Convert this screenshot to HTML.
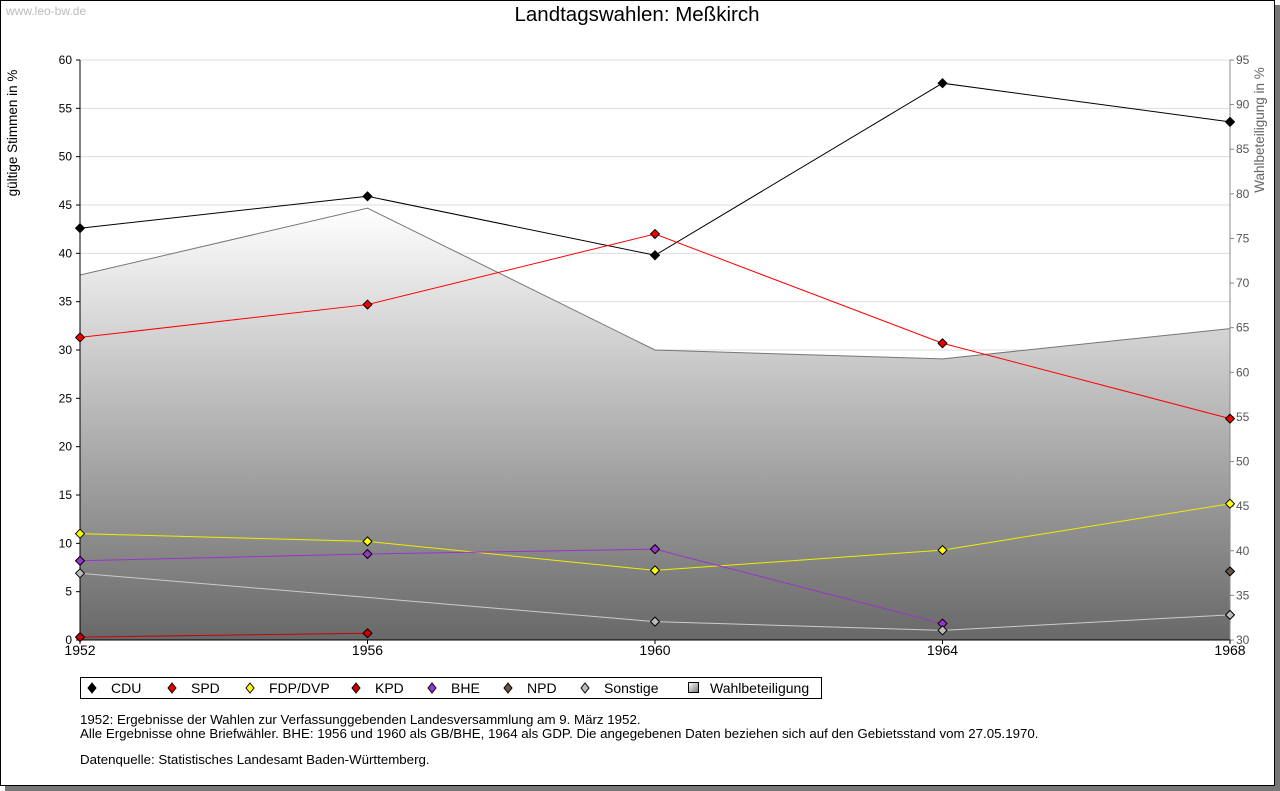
<!DOCTYPE html>
<html><head><meta charset="utf-8"><style>
body{margin:0;background:#fff;font-family:"Liberation Sans","DejaVu Sans",sans-serif}
#frame{position:absolute;left:0;top:0;width:1273px;height:784px;border:1px solid #000;box-shadow:5px 5px 0 #777;background:#fff}
svg{position:absolute;left:0;top:0}
</style></head><body>
<div id="frame"></div>
<svg id="chart" width="1280" height="791"></svg>
<script>
const years=[1952,1956,1960,1964,1968];
const cdu=[42.6,45.9,39.8,57.6,53.6];
const spd=[31.3,34.7,42.0,30.7,22.9];
const fdp=[11.0,10.2,7.2,9.3,14.1];
const kpd=[0.3,0.7,null,null,null];
const bhe=[8.2,8.9,9.4,1.7,null];
const npd=[null,null,null,null,7.1];
const sonstige=[6.9,null,1.9,1.0,2.6];
const turnout=[70.9,78.4,62.5,61.5,64.9];
const leftTicks=[0,5,10,15,20,25,30,35,40,45,50,55,60];
const rightTicks=[30,35,40,45,50,55,60,65,70,75,80,85,90,95];
const NS='http://www.w3.org/2000/svg';
const svg=document.getElementById('chart');
const X0=80,X1=1230,Y0=640,Y1=60;
const xs=y=>X0+(y-1952)/(1968-1952)*(X1-X0);
const yl=v=>Y0-v/60*(Y0-Y1);
const yr=v=>Y0-(v-30)/65*(Y0-Y1);
function el(t,a,p){const e=document.createElementNS(NS,t);for(const k in a)e.setAttribute(k,a[k]);(p||svg).appendChild(e);return e;}
function txt(s,a){const e=el('text',a);e.textContent=s;return e;}
const defs=el('defs',{});
const g=el('linearGradient',{id:'tg',x1:0,y1:0,x2:0,y2:1},defs);
el('stop',{offset:'0','stop-color':'#fff'},g);el('stop',{offset:'1','stop-color':'#686868'},g);
const lg=el('linearGradient',{id:'lg',x1:0,y1:0,x2:1,y2:1},defs);
el('stop',{offset:'0','stop-color':'#fff'},lg);el('stop',{offset:'1','stop-color':'#777'},lg);
leftTicks.forEach(v=>{if(v>0){const l=el('line',{x1:X0,x2:X1,y1:yl(v),y2:yl(v),stroke:'#ddd'});}});
let d='M'+xs(years[0])+','+Y0;
years.forEach((y,i)=>d+=' L'+xs(y)+','+yr(turnout[i]));
d+=' L'+xs(years[4])+','+Y0+' Z';
const area=el('path',{d:d,fill:'url(#tg)'});

const tl=el('polyline',{points:years.map((y,i)=>xs(y)+','+yr(turnout[i])).join(' '),fill:'none',stroke:'#777','stroke-width':1});

el('line',{x1:X0,x2:X0,y1:Y1,y2:Y0,stroke:'#000'});
el('line',{x1:X1,x2:X1,y1:Y1,y2:Y0,stroke:'#888'});
el('line',{x1:X0,x2:X1,y1:Y0,y2:Y0,stroke:'#000'});
leftTicks.forEach(v=>{el('line',{x1:X0-4,x2:X0,y1:yl(v),y2:yl(v),stroke:'#000'});
 const t=txt(v,{x:X0-8,y:yl(v)+4,'text-anchor':'end','font-size':12,fill:'#000'});});
rightTicks.forEach(v=>{el('line',{x1:X1,x2:X1+4,y1:yr(v),y2:yr(v),stroke:'#888'});
 const t=txt(v,{x:X1+6,y:yr(v)+4,'font-size':12,fill:'#555'});});
years.forEach(y=>{el('line',{x1:xs(y),x2:xs(y),y1:Y0,y2:Y0+4,stroke:'#000'});
 const t=txt(y,{x:xs(y),y:Y0+15,'text-anchor':'middle','font-size':14});});
const series=[['cdu',cdu,'#000','#000'],['spd',spd,'#f00','#e00'],['fdp',fdp,'#ee0','#ff0'],['kpd',kpd,'#c00','#c00'],['bhe',bhe,'#93c','#93c'],['npd',npd,'#654','#654'],['sonstige',sonstige,'#ccc','#bbb']];
series.forEach(([n,vals,lc,fc])=>{
 const pts=years.map((y,i)=>vals[i]==null?null:[xs(y),yl(vals[i])]).filter(p=>p);
 if(pts.length>1){const l=el('polyline',{points:pts.map(p=>p.join(',')).join(' '),fill:'none',stroke:lc,'stroke-width':1});}
 pts.forEach(p=>{const m=el('path',{d:`M${p[0]},${p[1]-4.5} L${p[0]+4.5},${p[1]} L${p[0]},${p[1]+4.5} L${p[0]-4.5},${p[1]} Z`,fill:fc,stroke:'#000','stroke-width':1,'stroke-linejoin':'round'});});
});
let t=txt('Landtagswahlen: Meßkirch',{x:637,y:21,'text-anchor':'middle','font-size':20.5});
t=txt('www.leo-bw.de',{x:6,y:15,'font-size':12,fill:'#bbb'});
t=txt('gültige Stimmen in %',{x:17,y:133,'text-anchor':'middle','font-size':13.5,transform:'rotate(-90 17 133)'});
t=txt('Wahlbeteiligung in %',{x:1264,y:130,'text-anchor':'middle','font-size':13.5,fill:'#666',transform:'rotate(-90 1264 130)'});
const lb=el('rect',{x:80.5,y:677.5,width:741,height:21,fill:'#fff',stroke:'#000'});
const leg=[['CDU','#000',92],['SPD','#e00',172],['FDP/DVP','#ff0',250],['KPD','#c00',356],['BHE','#93c',432],['NPD','#654',508],['Sonstige','#bbb',585]];
leg.forEach(([n,c,x])=>{const m=el('path',{d:`M${x},${683} L${x+4},${688} L${x},${693} L${x-4},${688} Z`,fill:c,stroke:'#000'});
 const tt=txt(n,{x:x+19,y:693,'font-size':14});});
el('rect',{x:688.5,y:682.5,width:10,height:10,fill:'url(#lg)',stroke:'#000'});
t=txt('Wahlbeteiligung',{x:710,y:693,'font-size':14});
[['1952: Ergebnisse der Wahlen zur Verfassunggebenden Landesversammlung am 9. März 1952.',724],['Alle Ergebnisse ohne Briefwähler. BHE: 1956 und 1960 als GB/BHE, 1964 als GDP. Die angegebenen Daten beziehen sich auf den Gebietsstand vom 27.05.1970.',738],['Datenquelle: Statistisches Landesamt Baden-Württemberg.',764]].forEach(([s,y])=>{const n=txt(s,{x:80,y:y,'font-size':13.3});});
</script>
</body></html>
